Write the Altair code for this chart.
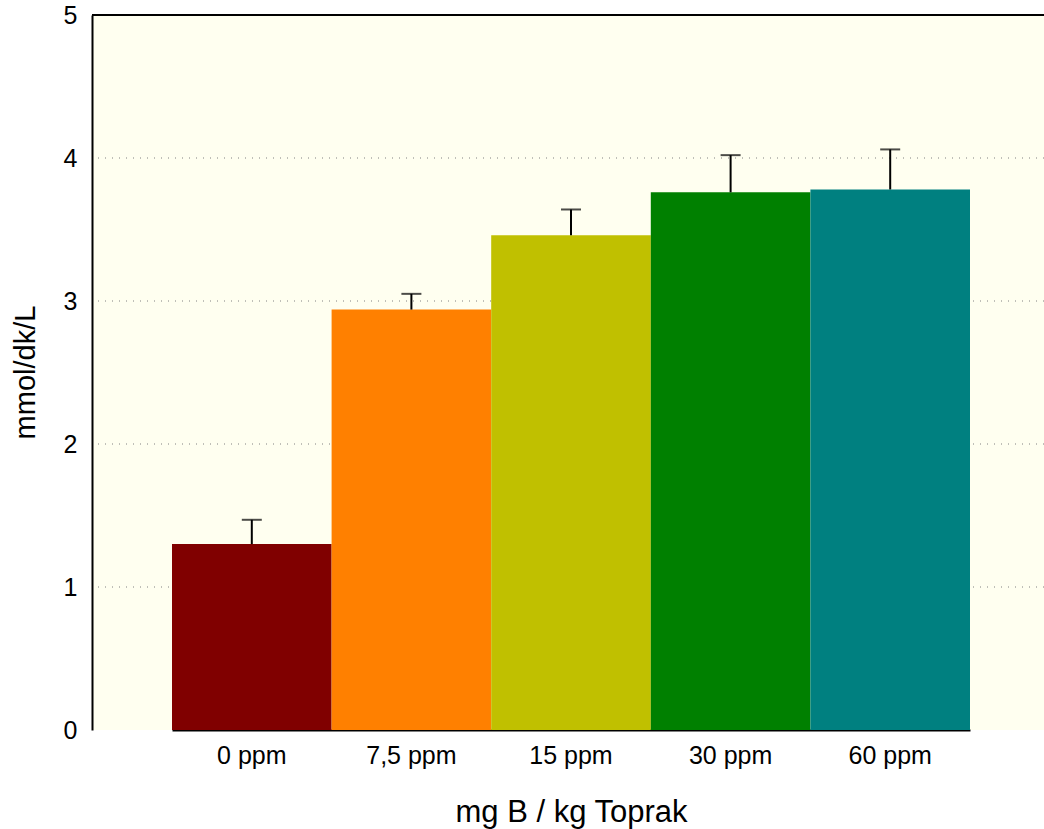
import altair as alt
import pandas as pd

categories = ["0 ppm", "7,5 ppm", "15 ppm", "30 ppm", "60 ppm"]
means = [1.30, 2.94, 3.46, 3.76, 3.78]
upper = [1.47, 3.05, 3.64, 4.02, 4.06]
colors = ["#800000", "#FF8000", "#C0C000", "#008000", "#008080"]

df = pd.DataFrame({"cat": categories, "mean": means, "upper": upper})

FONT = "Liberation Sans"

xscale = alt.Scale(domain=categories, range=[80, 878], paddingInner=0, paddingOuter=0)

x = alt.X("cat:N", sort=categories, scale=xscale,
          axis=alt.Axis(title="mg B / kg Toprak", labelAngle=0, ticks=False,
                        labelFontSize=25, titleFontSize=31, labelPadding=13,
                        titlePadding=29, labelColor="black", titleColor="black",
                        titleFontWeight="normal", domainColor="black", domainWidth=2,
                        labelFont=FONT, titleFont=FONT, grid=False))
y = alt.Y("mean:Q", scale=alt.Scale(domain=[0, 5], nice=False),
          axis=alt.Axis(title="mmol/dk/L", values=[0, 1, 2, 3, 4, 5], format="d",
                        ticks=False, labelFontSize=25, titleFontSize=29, labelPadding=15,
                        titleX=-58, titleY=357, titleBaseline="alphabetic", titleAngle=270,
                        labelColor="black", titleColor="black",
                        titleFontWeight="normal", domainColor="black", domainWidth=2,
                        labelFont=FONT, titleFont=FONT, grid=False))

grid_df = pd.DataFrame({"v": [1, 2, 3, 4]})
grid = alt.Chart(grid_df).mark_rule(color="#808080", strokeDash=[1, 6], strokeWidth=1).encode(
    y=alt.Y("v:Q", scale=alt.Scale(domain=[0, 5], nice=False))
)

bars = alt.Chart(df).mark_bar().encode(
    x=x, y=y,
    color=alt.Color("cat:N", sort=categories,
                    scale=alt.Scale(domain=categories, range=colors), legend=None),
)

err = alt.Chart(df).mark_rule(color="black", strokeWidth=2).encode(
    x=alt.X("cat:N", sort=categories), y="mean:Q", y2="upper:Q"
)
caps = alt.Chart(df).mark_tick(color="black", thickness=2, size=20).encode(
    x=alt.X("cat:N", sort=categories), y="upper:Q"
)
top = alt.Chart(pd.DataFrame({"t": [5]})).mark_rule(color="black", strokeWidth=2).encode(
    y="t:Q"
)

chart = alt.layer(grid, bars, err, caps, top).properties(
    width=952, height=715,
    autosize=alt.AutoSizeParams(type="none"),
    padding={"left": 92, "top": 15, "right": 0, "bottom": 99},
    background="white",
).configure_view(fill="#FFFFF0", stroke=None)

chart.save("out.html", embed_options={"renderer": "svg", "actions": False})
